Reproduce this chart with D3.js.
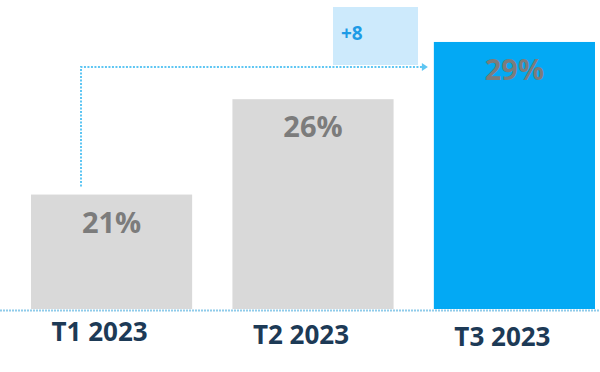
<!DOCTYPE html>
<html>
<head>
<meta charset="utf-8">
<script src="https://cdn.jsdelivr.net/npm/d3@7.9.0/dist/d3.min.js"></script>
<style>
  body { margin: 0; background: #fff; }
  svg { display: block; font-family: 'Open Sans', sans-serif; }
</style>
</head>
<body>
<svg width="600" height="372"></svg>
<script>
const quarters = ['T1 2023', 'T2 2023', 'T3 2023'];
const shares = [21, 26, 29];

const svg = d3.select('svg');

// bars start from 15, not zero (matches the picture)
let x = d3.scaleBand().domain(quarters).range([31, 595]).paddingInner(0.2).paddingOuter(0);
let y = d3.scaleLinear().domain([15, 31.2]).range([309, 0]);

const last = quarters.length - 1;

svg.selectAll('rect.bar')
  .data(quarters)
  .join('rect')
  .attr('class', 'bar')
  .attr('x', d => x(d))
  .attr('y', (d, i) => y(shares[i]))
  .attr('width', x.bandwidth())
  .attr('height', (d, i) => y(15) - y(shares[i]))
  .attr('fill', (d, i) => i === last ? '#03a9f4' : '#d9d9d9');

// value labels
svg.selectAll('text.val')
  .data(quarters)
  .join('text')
  .attr('class', 'val')
  .attr('x', d => x(d) + x.bandwidth() / 2)
  .attr('y', (d, i) => y(shares[i]) + 38)
  .attr('text-anchor', 'middle')
  .attr('font-size', 29)
  .attr('font-weight', 700)
  .attr('fill', '#7c7c7c')
  .text((d, i) => shares[i] + '%');

// dotted baseline
svg.append('line')
  .attr('x1', 0).attr('x2', 600)
  .attr('y1', y(15) + 1.5).attr('y2', y(15) + 1.5)
  .attr('stroke', '#8fcbea')
  .attr('stroke-width', 2)
  .attr('stroke-dasharray', '2,1');

// category labels
svg.selectAll('text.cat')
  .data(quarters)
  .join('text')
  .attr('class', 'cat')
  .attr('x', d => x(d) + x.bandwidth() / 2 - 12)
  .attr('y', (d, i) => 341 + i * 2.5)
  .attr('text-anchor', 'middle')
  .attr('font-size', 26)
  .attr('font-weight', 700)
  .attr('fill', '#1d3a56')
  .text(d => d);

// connector from first bar to last bar
let lineY = 67;
let x0 = x(quarters[0]) + 50;
let x1 = x(quarters[last]) - 6;

svg.append('path')
  .attr('d', `M${x0},${y(shares[0]) - 8}V${lineY}H${x1 - 4}`)
  .attr('fill', 'none')
  .attr('stroke', '#5ec6f3')
  .attr('stroke-width', 2)
  .attr('stroke-dasharray', '2,1.5');

svg.append('path')
  .attr('d', `M${x1 - 6},${lineY - 4}L${x1},${lineY}L${x1 - 6},${lineY + 4}Z`)
  .attr('fill', '#5ec6f3');

// delta box
let delta = shares[last] - shares[0];
svg.append('rect')
  .attr('x', 333).attr('y', 7)
  .attr('width', 85).attr('height', lineY - 9)
  .attr('fill', '#cdeafc');

svg.append('text')
  .attr('x', 341).attr('y', 40)
  .attr('font-size', 19)
  .attr('font-weight', 700)
  .attr('fill', '#1e9be6')
  .text('+' + delta);
</script>
</body>
</html>
